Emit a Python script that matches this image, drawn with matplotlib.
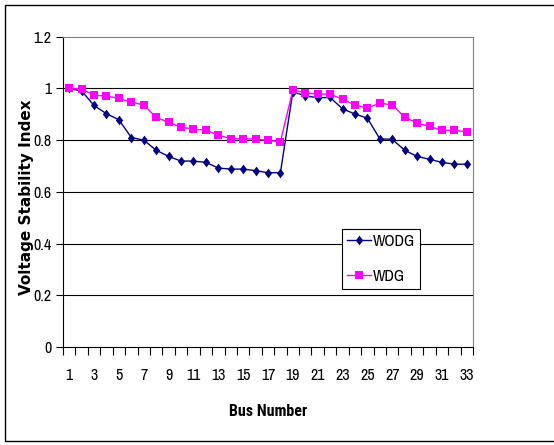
import matplotlib.pyplot as plt
from matplotlib.patches import Rectangle

bus = list(range(1, 34))
wodg = [1.0, 0.99, 0.934, 0.902, 0.879, 0.81, 0.80, 0.761, 0.737, 0.719, 0.719,
        0.714, 0.692, 0.688, 0.688, 0.682, 0.674, 0.674,
        0.987, 0.971, 0.964, 0.965, 0.921, 0.901, 0.885, 0.805, 0.803, 0.761,
        0.737, 0.726, 0.714, 0.707, 0.707]
wdg = [1.0, 0.998, 0.974, 0.970, 0.962, 0.947, 0.936, 0.888, 0.869, 0.850, 0.843,
       0.838, 0.82, 0.805, 0.806, 0.804, 0.799, 0.794,
       0.994, 0.983, 0.978, 0.978, 0.958, 0.936, 0.924, 0.943, 0.936, 0.889,
       0.866, 0.853, 0.838, 0.838, 0.832]
yticks = [0, 0.2, 0.4, 0.6, 0.8, 1.0, 1.2]
ytick_labels = ["0", "0.2", "0.4", "0.6", "0.8", "1", "1.2"]

narrow = ["Archivo Narrow", "Roboto Condensed", "Liberation Sans", "DejaVu Sans"]
narrow_bold = ["Roboto Condensed", "Archivo Narrow", "Liberation Sans", "DejaVu Sans"]
plt.rcParams["font.family"] = narrow

# slim diamond marker, a little taller than wide
diamond = [(0, 1), (0.75, 0), (0, -1), (-0.75, 0), (0, 1)]

fig = plt.figure(figsize=(5.54, 4.45), dpi=100)
# thin frame round the whole chart
fig.patches.append(Rectangle((4.5 / 554, 4.0 / 445), 1.2, 436.5 / 445,
                             transform=fig.transFigure, fill=False,
                             edgecolor="black", linewidth=1.0))

ax = fig.add_axes([63 / 554, 1 - 347 / 445, 410 / 554, 310.3 / 445])

ax.plot(bus, wodg, color="#000080", marker=diamond, markersize=7,
        markeredgewidth=0, linewidth=1.0, label="WODG")
ax.plot(bus, wdg, color="#FF00FF", marker="s", markersize=5.5,
        markeredgewidth=0, linewidth=1.0, label="WDG")

ax.set_xlim(0.5, 33.5)
ax.set_ylim(0, 1.2)

# category axis: ticks between buses, labels on odd buses
ax.set_xticks([b + 0.5 for b in range(0, 34)])
ax.set_xticklabels([])
ax.set_xticks(bus[::2], minor=True)
ax.set_xticklabels([str(b) for b in bus[::2]], minor=True, fontsize=11.5)
ax.tick_params(axis="x", which="minor", length=0, pad=15)
ax.tick_params(axis="x", which="major", length=6, width=0.8, direction="out")

ax.set_yticks(yticks)
ax.set_yticklabels(ytick_labels, fontsize=11.5)
ax.tick_params(axis="y", length=5, width=0.8, direction="out", pad=3)

for y in yticks[1:-1]:
    ax.axhline(y, color="black", linewidth=0.8, zorder=0)

ax.spines["top"].set_color("#808080")
ax.spines["right"].set_color("#808080")
ax.spines["left"].set_color("black")
ax.spines["bottom"].set_color("black")

fig.text(268 / 554, 1 - 412 / 445, "Bus Number", ha="center", va="center",
         fontsize=11.5, fontweight="bold", family=narrow_bold)
fig.text(26.5 / 554, 1 - 197 / 445, "Voltage Stability Index", ha="center",
         va="center", rotation=90, fontsize=11, fontweight="bold",
         family=["DejaVu Sans"])

leg = ax.legend(loc="upper left", bbox_to_anchor=(0.68, 0.38), fontsize=11.5,
                handlelength=1.5, handletextpad=0.15, borderpad=0.3,
                labelspacing=1.25, fancybox=False, framealpha=1,
                edgecolor="black", borderaxespad=0)
leg.get_frame().set_linewidth(0.8)

fig.savefig("out.png", dpi=100)
